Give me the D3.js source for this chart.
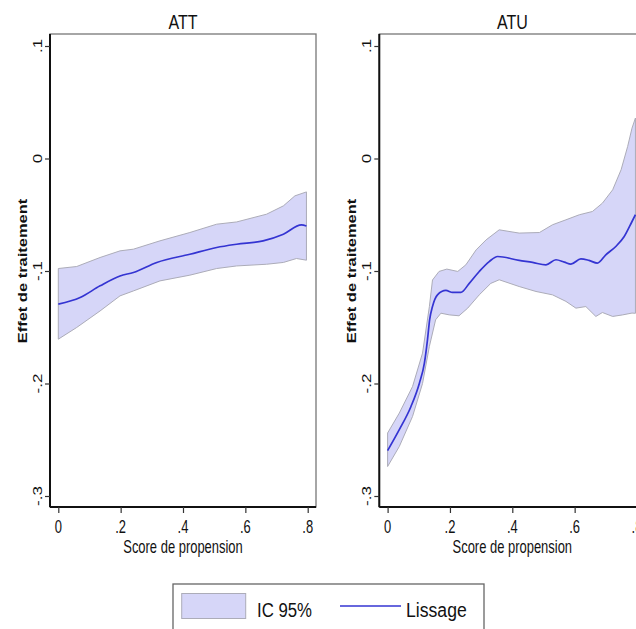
<!DOCTYPE html>
<html>
<head>
<meta charset="utf-8">
<script src="https://cdn.jsdelivr.net/npm/d3@7.9.0/dist/d3.min.js"></script>
<style>
  body { margin: 0; background: #fff; }
  svg { display: block; }
  text { font-family: "Liberation Sans", Arial, sans-serif; fill: #111; }
</style>
</head>
<body>
<div id="chart"></div>
<script>
// ---- data ----
const panelTitles = ['ATT', 'ATU'];
const xTicks = [0, 0.2, 0.4, 0.6, 0.8];
const xTickLabels = ['0', '.2', '.4', '.6', '.8'];
const yTicks = [-0.3, -0.2, -0.1, 0, 0.1];
const yTickLabels = ['-.3', '-.2', '-.1', '0', '.1'];
const xTitle = 'Score de propension';
const yTitle = 'Effet de traitement';
const legendLabels = ['IC 95%', 'Lissage'];

// ATT
const attLineX = [0, 0.07, 0.134, 0.198, 0.241, 0.316, 0.422, 0.508, 0.572, 0.657, 0.722, 0.78, 0.796];
const attLineY = [-0.1295, -0.1236, -0.1132, -0.1044, -0.1013, -0.0924, -0.0851, -0.0791, -0.0762, -0.0732, -0.0673, -0.059, -0.060];
const attHighX = [0, 0.059, 0.134, 0.198, 0.241, 0.326, 0.422, 0.508, 0.572, 0.668, 0.722, 0.759, 0.796];
const attHighY = [-0.0978, -0.096, -0.088, -0.0821, -0.0806, -0.0732, -0.0658, -0.0584, -0.0564, -0.0495, -0.0421, -0.0332, -0.0297];
const attLowX = [0, 0.059, 0.134, 0.198, 0.241, 0.326, 0.422, 0.508, 0.572, 0.668, 0.722, 0.764, 0.796];
const attLowY = [-0.1606, -0.1502, -0.1355, -0.1221, -0.1177, -0.1088, -0.1037, -0.0978, -0.0955, -0.094, -0.0924, -0.0889, -0.0904];

// ATU
const atuLineX = [0, 0.0375, 0.075, 0.102, 0.118, 0.128, 0.135, 0.144, 0.16, 0.187, 0.2085, 0.235, 0.262, 0.294, 0.326, 0.353,
  0.422, 0.465, 0.508, 0.540, 0.567, 0.588, 0.620, 0.646, 0.673, 0.700, 0.732, 0.759, 0.784, 0.795];
const atuLineY = [-0.2596, -0.241, -0.2204, -0.1997, -0.1819, -0.161, -0.143, -0.1316, -0.1212, -0.1173, -0.119, -0.119, -0.111, -0.1004, -0.0916, -0.0871,
  -0.0906, -0.0924, -0.0945, -0.090, -0.0921, -0.0939, -0.0892, -0.0906, -0.093, -0.0856, -0.0782, -0.0693, -0.056, -0.050];
const atuHighX = [0, 0.0375, 0.08, 0.112, 0.134, 0.144, 0.165, 0.19, 0.225, 0.251, 0.284, 0.316, 0.358,
  0.422, 0.487, 0.529, 0.572, 0.615, 0.657, 0.689, 0.722, 0.749, 0.770, 0.784, 0.795];
const atuHighY = [-0.244, -0.2263, -0.2027, -0.173, -0.1316, -0.108, -0.1004, -0.0983, -0.1004, -0.0945, -0.0812, -0.0723, -0.0634,
  -0.0663, -0.0658, -0.0589, -0.0545, -0.050, -0.0471, -0.0397, -0.0278, -0.010, 0.0107, 0.027, 0.036];
const atuLowX = [0, 0.0375, 0.08, 0.112, 0.134, 0.154, 0.171, 0.198, 0.229, 0.257, 0.294, 0.331, 0.358,
  0.422, 0.476, 0.529, 0.572, 0.604, 0.636, 0.668, 0.689, 0.722, 0.754, 0.784, 0.795];
const atuLowY = [-0.2738, -0.256, -0.2293, -0.200, -0.167, -0.1434, -0.1375, -0.139, -0.1398, -0.133, -0.1212, -0.111, -0.1078,
  -0.1138, -0.1182, -0.1212, -0.127, -0.133, -0.1316, -0.1404, -0.1369, -0.1404, -0.139, -0.1374, -0.1376];

const panels = [
  { title: panelTitles[0], left: 50, lineX: attLineX, lineY: attLineY, highX: attHighX, highY: attHighY, lowX: attLowX, lowY: attLowY },
  { title: panelTitles[1], left: 379.3, lineX: atuLineX, lineY: atuLineY, highX: atuHighX, highY: atuHighY, lowX: atuLowX, lowY: atuLowY },
];

// ---- layout ----
const width = 636;
const height = 629;
const frameW = 266;
const frameTop = 34;
const frameBottom = 507;
const squeeze = 0.72; // text in the picture is narrowed horizontally

const bandFill = '#d6d6f8';
const bandStroke = '#acacb8';
const lineColor = '#3434d2';

const svg = d3.select('#chart')
  .append('svg')
  .attr('width', width)
  .attr('height', height);

const yScale = d3.scaleLinear().domain([-0.3, 0.1]).range([496, 46]);

panels.forEach((p) => {
  const xScale = d3.scaleLinear()
    .domain([0, 0.8])
    .range([p.left + 8.3, p.left + 8.3 + 249.4]);

  const g = svg.append('g');

  // frame (top/right in gray)
  g.append('rect')
    .attr('x', p.left)
    .attr('y', frameTop)
    .attr('width', frameW)
    .attr('height', frameBottom - frameTop)
    .attr('fill', 'none')
    .attr('stroke', '#777')
    .attr('stroke-width', 1.3);

  // band
  const upper = p.highX.map((x, i) => [x, p.highY[i]]);
  const lower = p.lowX.map((x, i) => [x, p.lowY[i]]).reverse();
  const smooth = d3.line()
    .x((d) => xScale(d[0]))
    .y((d) => yScale(d[1]))
    .curve(d3.curveMonotoneX);
  const bandPath = d3.line()
    .x((d) => xScale(d[0]))
    .y((d) => yScale(d[1]));
  g.append('path')
    .attr('d', bandPath(upper.concat(lower)) + 'Z')
    .attr('fill', bandFill)
    .attr('stroke', bandStroke)
    .attr('stroke-width', 1);

  // smoothed line
  g.append('path')
    .datum(p.lineX.map((x, i) => [x, p.lineY[i]]))
    .attr('d', smooth)
    .attr('fill', 'none')
    .attr('stroke', lineColor)
    .attr('stroke-width', 1.7);

  // axes
  const yAxis = d3.axisLeft(yScale)
    .tickValues(yTicks)
    .tickSize(5)
    .tickFormat('');
  const yg = g.append('g')
    .attr('transform', `translate(${p.left}, 0)`)
    .call(yAxis);
  yg.select('.domain').attr('stroke', '#111').attr('stroke-width', 2)
    .attr('d', `M0,${frameTop}V${frameBottom}`);
  yg.selectAll('.tick line').attr('stroke', '#333').attr('stroke-width', 1.2);

  const xAxis = d3.axisBottom(xScale)
    .tickValues(xTicks)
    .tickSize(6)
    .tickFormat('');
  const xg = g.append('g')
    .attr('transform', `translate(0, ${frameBottom})`)
    .call(xAxis);
  xg.select('.domain').attr('stroke', '#111').attr('stroke-width', 2)
    .attr('d', `M${p.left},0H${p.left + frameW}`);
  xg.selectAll('.tick line').attr('stroke', '#333').attr('stroke-width', 1.2);

  // tick labels
  g.selectAll('.ylab')
    .data(yTicks)
    .join('text')
    .attr('class', 'ylab')
    .attr('text-anchor', 'middle')
    .attr('font-size', 17)
    .attr('transform', (d) => `translate(${p.left - 8}, ${yScale(d)}) scale(${squeeze},1) rotate(-90)`)
    .text((d, i) => yTickLabels[i]);

  g.selectAll('.xlab')
    .data(xTicks)
    .join('text')
    .attr('class', 'xlab')
    .attr('text-anchor', 'middle')
    .attr('font-size', 18)
    .attr('transform', (d) => `translate(${xScale(d)}, 533) scale(${squeeze},1)`)
    .text((d, i) => xTickLabels[i]);

  // titles
  g.append('text')
    .attr('text-anchor', 'middle')
    .attr('font-size', 20)
    .attr('transform', `translate(${p.left + frameW / 2}, 29) scale(0.8,1)`)
    .text(p.title);

  g.append('text')
    .attr('text-anchor', 'middle')
    .attr('font-size', 18)
    .attr('transform', `translate(${p.left + frameW / 2}, 553) scale(${squeeze},1)`)
    .text(xTitle);

  g.append('text')
    .attr('text-anchor', 'middle')
    .attr('font-size', 16.5)
    .attr('font-weight', 'bold')
    .attr('transform', `translate(${p.left - 23.5}, 271) scale(${squeeze},1) rotate(-90)`)
    .text(yTitle);
});

// ---- legend ----
const legend = svg.append('g');
legend.append('rect')
  .attr('x', 173)
  .attr('y', 584)
  .attr('width', 311)
  .attr('height', 46)
  .attr('fill', '#fff')
  .attr('stroke', '#666')
  .attr('stroke-width', 1.3);
legend.append('rect')
  .attr('x', 181.7)
  .attr('y', 593.5)
  .attr('width', 64)
  .attr('height', 25)
  .attr('fill', bandFill)
  .attr('stroke', bandStroke)
  .attr('stroke-width', 1);
legend.append('text')
  .attr('font-size', 21)
  .attr('transform', `translate(257, 616.5) scale(0.8,1)`)
  .text(legendLabels[0]);
legend.append('line')
  .attr('x1', 340).attr('x2', 401)
  .attr('y1', 606).attr('y2', 606)
  .attr('stroke', lineColor)
  .attr('stroke-width', 1.7);
legend.append('text')
  .attr('font-size', 21)
  .attr('transform', `translate(406, 616.5) scale(0.84,1)`)
  .text(legendLabels[1]);
</script>
</body>
</html>
